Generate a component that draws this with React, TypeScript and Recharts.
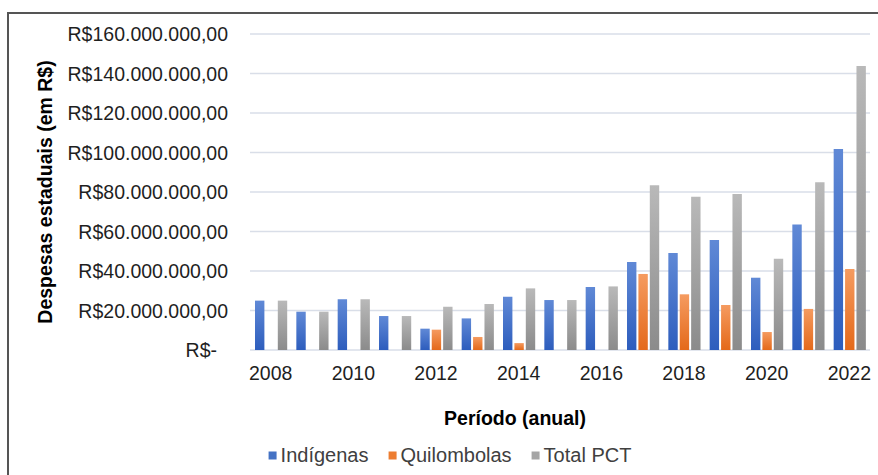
import { BarChart, Bar, XAxis, YAxis, CartesianGrid } from 'recharts'

const years = ['2008', '2009', '2010', '2011', '2012', '2013', '2014', '2015', '2016', '2017', '2018', '2019', '2020', '2021', '2022']

// despesas em R$
const indigenas = [25000000, 19400000, 25700000, 17200000, 10800000, 16000000, 27000000, 25300000, 31900000, 44600000, 49100000, 55700000, 36600000, 63600000, 101800000]
const quilombolas = [0, 0, 0, 0, 10300000, 6600000, 3500000, 0, 0, 38500000, 28200000, 22800000, 9100000, 20800000, 41000000]
const totalPct = [25000000, 19400000, 25700000, 17200000, 21900000, 23300000, 31200000, 25300000, 32200000, 83400000, 77600000, 79000000, 46200000, 84900000, 143800000]

const yTicks = [0, 20000000, 40000000, 60000000, 80000000, 100000000, 120000000, 140000000, 160000000]

const seriesNames = ['Indígenas', 'Quilombolas', 'Total PCT']

const data = years.map((year, i) => ({
  year,
  indigenas: indigenas[i],
  quilombolas: quilombolas[i],
  total: totalPct[i]
}))

const colors = {
  blue: '#4472C4',
  orange: '#ED7D31',
  gray: '#A5A5A5',
  grid: '#d9dee8',
  text: '#1f1f1f',
  legend: '#404040'
}

const font = '"Liberation Sans", Arial, sans-serif'

function formatReais(v: number) {
  if (v === 0) return 'R$-'
  const s = String(Math.round(v)).replace(/\B(?=(\d{3})+(?!\d))/g, '.')
  return `R$${s},00`
}

const YTick = ({ x, y, payload }: any) => {
  const isZero = payload.value === 0
  return (
    <text
      x={isZero ? x - 11 : x}
      y={y}
      textAnchor="end"
      dominantBaseline="central"
      fill={colors.text}
      style={{ fontFamily: font, fontSize: 19.5 }}
    >
      {formatReais(payload.value)}
    </text>
  )
}

export default function App() {
  const legendItems = [
    { name: seriesNames[0], color: colors.blue },
    { name: seriesNames[1], color: colors.orange },
    { name: seriesNames[2], color: colors.gray }
  ]

  return (
    <div style={{ position: 'fixed', left: 0, top: 0, width: 878, height: 475, overflow: 'hidden', background: '#fff' }}>
      {/* moldura da figura */}
      <div style={{ position: 'absolute', left: 7, top: 12, width: 900, height: 500, borderTop: '2px solid #555', borderLeft: '2px solid #555' }} />

      <div style={{ position: 'absolute', left: 0, top: 0 }}>
        <BarChart
          width={878}
          height={475}
          data={data}
          margin={{ top: 34, right: 8, bottom: 95, left: 0 }}
          barSize={9.4}
          barGap={2}
        >
          <defs>
            <linearGradient id="gradBlue" x1="0" y1="0" x2="0" y2="1">
              <stop offset="0%" stopColor="#6089d6" />
              <stop offset="100%" stopColor="#2d5dbd" />
            </linearGradient>
            <linearGradient id="gradOrange" x1="0" y1="0" x2="0" y2="1">
              <stop offset="0%" stopColor="#f59b60" />
              <stop offset="100%" stopColor="#e4691a" />
            </linearGradient>
            <linearGradient id="gradGray" x1="0" y1="0" x2="0" y2="1">
              <stop offset="0%" stopColor="#b9b9b9" />
              <stop offset="100%" stopColor="#8b8b8b" />
            </linearGradient>
          </defs>
          <CartesianGrid vertical={false} stroke={colors.grid} strokeWidth={1.3} />
          <XAxis
            dataKey="year"
            height={30}
            interval={1}
            axisLine={false}
            tickLine={false}
            tickSize={6}
            tickMargin={10}
            tick={{ fill: colors.text, fontSize: 19.5, fontFamily: font }}
          />
          <YAxis
            width={250}
            domain={[0, 160000000]}
            ticks={yTicks}
            axisLine={false}
            tickLine={false}
            tickSize={6}
            tickMargin={16}
            tick={<YTick />}
          />
          <Bar dataKey="indigenas" name={seriesNames[0]} fill="url(#gradBlue)" isAnimationActive={false} />
          <Bar dataKey="quilombolas" name={seriesNames[1]} fill="url(#gradOrange)" isAnimationActive={false} />
          <Bar dataKey="total" name={seriesNames[2]} fill="url(#gradGray)" isAnimationActive={false} />
        </BarChart>
      </div>

      {/* título do eixo Y */}
      <div
        style={{
          position: 'absolute',
          left: 45,
          top: 192,
          transform: 'translate(-50%, -50%) rotate(-90deg)',
          whiteSpace: 'nowrap',
          fontFamily: font,
          fontWeight: 'bold',
          fontSize: 19.5,
          color: '#000'
        }}
      >
        Despesas estaduais (em R$)
      </div>

      {/* título do eixo X */}
      <div
        style={{
          position: 'absolute',
          left: 515,
          top: 418,
          transform: 'translate(-50%, -50%)',
          whiteSpace: 'nowrap',
          fontFamily: font,
          fontWeight: 'bold',
          fontSize: 19.5,
          color: '#000'
        }}
      >
        Período (anual)
      </div>

      {/* legenda */}
      <div
        style={{
          position: 'absolute',
          left: 450,
          top: 455,
          transform: 'translate(-50%, -50%)',
          display: 'flex',
          alignItems: 'center',
          gap: 20,
          whiteSpace: 'nowrap',
          fontFamily: font,
          fontSize: 20,
          color: colors.legend
        }}
      >
        {legendItems.map((item) => (
          <div key={item.name} style={{ display: 'flex', alignItems: 'center', gap: 4 }}>
            <span style={{ display: 'inline-block', width: 8, height: 8, background: item.color }} />
            <span>{item.name}</span>
          </div>
        ))}
      </div>
    </div>
  )
}
